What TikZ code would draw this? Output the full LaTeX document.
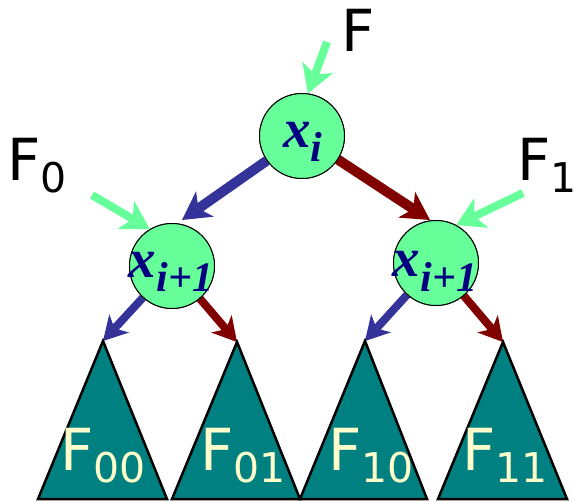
\documentclass[tikz,border=0pt]{standalone}
\usepackage{fontspec}
\usetikzlibrary{arrows.meta}
\newfontfamily\labfont{DejaVu Sans}
\newfontfamily\xfont{Liberation Serif}
\definecolor{lgreen}{HTML}{66FF99}
\definecolor{arblue}{HTML}{333399}
\definecolor{arred}{HTML}{800000}
\definecolor{tealfill}{HTML}{008080}
\definecolor{cream}{HTML}{FFFFCC}
\definecolor{navytext}{HTML}{000080}
\newcommand\Fsub[1]{{\labfont\fontsize{58pt}{60pt}\selectfont F\raisebox{-12pt}{\fontsize{41pt}{43pt}\selectfont #1}}}
\newcommand\Xsub[1]{{\xfont\bfseries\itshape\fontsize{55pt}{57pt}\selectfont x\raisebox{-14pt}{\fontsize{42pt}{44pt}\selectfont #1}}}
\tikzset{
  circ/.style={circle, draw=black, line width=1pt, fill=lgreen, minimum size=85pt, inner sep=0pt},
  bigarrow/.style={line width=10pt, -{Stealth[length=28pt,width=31pt,inset=8pt,line width=0pt]}},
  smallarrow/.style={line width=8pt, -{Stealth[length=24pt,width=27pt,inset=7pt,line width=0pt]}},
  garrow/.style={line width=8pt, draw=lgreen, -{Stealth[length=28pt,width=33pt,inset=8pt,line width=0pt]}},
  tri/.style={draw=black, line width=2.5pt, fill=tealfill, line join=miter},
  lab/.style={anchor=base west, inner sep=0pt, outer sep=0pt},
  xlab/.style={anchor=base, inner sep=0pt, outer sep=0pt, text=navytext}
}
\begin{document}
\begin{tikzpicture}[x=1pt,y=-1pt]
\useasboundingbox (0,0) rectangle (575,502);
% circles positions
\node[circ] (T) at (302,136) {};
\node[circ] (L) at (172,266) {};
\node[circ] (R) at (436,263) {};
% tips and tails
\coordinate (tTL) at (182,220);
\coordinate (tTR) at (430,220);
\coordinate (a1) at (103,341);
\coordinate (a2) at (237,342);
\coordinate (a3) at (365,341);
\coordinate (a4) at (503,342);
\coordinate (gT) at (327,42);
\coordinate (gL) at (92,195);
\coordinate (gR) at (523,193);
% arrows
\draw[bigarrow, arblue] (T) -- (tTL);
\draw[bigarrow, arred] (T) -- (tTR);
\draw[smallarrow, arblue] (L) -- (a1);
\draw[smallarrow, arred] (L) -- (a2);
\draw[smallarrow, arblue] (R) -- (a3);
\draw[smallarrow, arred] (R) -- (a4);
% triangles
\draw[tri] (a1) -- (167,499) -- (38,499) -- cycle;
\draw[tri] (a2) -- (300,499) -- (172,499) -- cycle;
\draw[tri] (a3) -- (427,499) -- (300,499) -- cycle;
\draw[tri] (a4) -- (567,499) -- (438,499) -- cycle;
% circles redrawn on top
\node[circ] (T2) at (T) {};
\node[circ] (L2) at (L) {};
\node[circ] (R2) at (R) {};
% green arrows
\draw[garrow] (gT) -- (T.82);
\draw[garrow] (gL) -- (L.121);
\draw[garrow] (gR) -- (R.62);
% labels
\node[lab] (lF) at (341,52) {\Fsub{}};
\node[lab] (lF0) at (7,181) {\Fsub{0}};
\node[lab] (lF1) at (517,181) {\Fsub{1}};
\node[lab, text=cream] (lF00) at (60,470) {\Fsub{00}};
\node[lab, text=cream] (lF01) at (200,470) {\Fsub{01}};
\node[lab, text=cream] (lF10) at (328,470) {\Fsub{10}};
\node[lab, text=cream] (lF11) at (462,470) {\Fsub{11}};
\node[xlab] (xT) at (303,148) {\Xsub{i}};
\node[xlab] (xL) at (171,278) {\Xsub{i+1}};
\node[xlab] (xR) at (435,277) {\Xsub{i+1}};
\end{tikzpicture}
\end{document}
